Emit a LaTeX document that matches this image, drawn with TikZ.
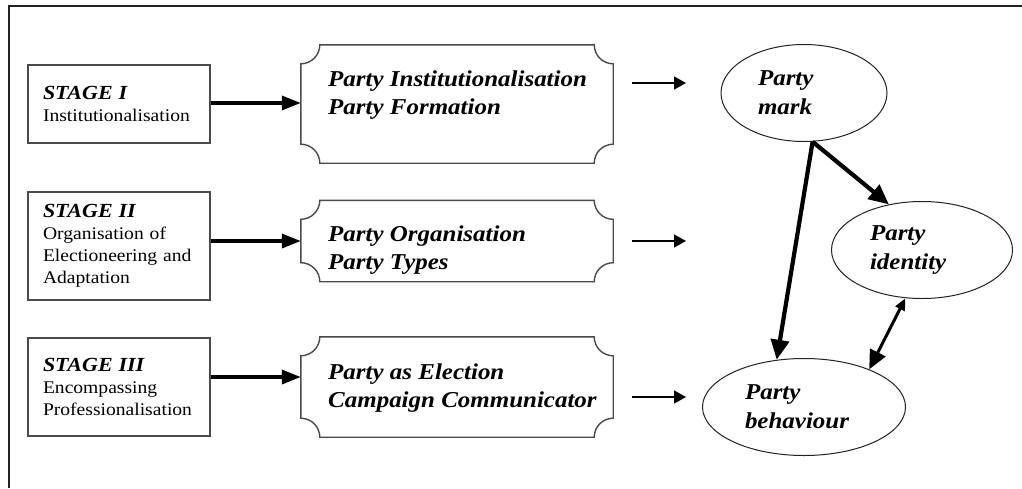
\documentclass[tikz,border=0pt]{standalone}
\usepackage{fontspec}
\setmainfont{Liberation Serif}[FakeStretch=1.1]
\usepackage{tikz}
\usetikzlibrary{arrows.meta}
\usetikzlibrary{calc}
\usepackage{xcolor}
\usetikzlibrary{arrows.meta,shapes.geometric}

\definecolor{framegray}{HTML}{222222}
\definecolor{boxgray}{HTML}{4A4A4A}

\begin{document}
\begin{tikzpicture}[x=1pt,y=-1pt,
		stagebox/.style={draw=boxgray,line width=1.5pt,rectangle,minimum width=182pt,
			text width=152pt,inner xsep=15pt,inner ysep=0pt,align=left,
			font=\fontsize{17.8}{22}\selectfont},
		scrollbox/.style={rectangle,minimum width=312pt,inner sep=0pt},
		scrollline/.style={draw=boxgray,line width=1.4pt},
		scrolltext/.style={anchor=west,inner sep=0pt,align=left,
			font=\fontsize{22.7}{28}\selectfont\bfseries\itshape},
		oval/.style={ellipse,draw=framegray,line width=1pt,inner sep=0pt,align=left,
			font=\fontsize{22.7}{29}\selectfont\bfseries\itshape},
		fatarrow/.style={line width=3.5pt,-{Triangle[length=19pt,width=14pt]}},
		thinarrow/.style={line width=1.5pt,-{Triangle[length=12pt,width=13pt]}},
		linkarrow/.style={line width=4.2pt,-{Triangle[length=20pt,width=18pt]}}]
		\useasboundingbox (0,0) rectangle (1022,488);
		
		% Outer frame
		\draw[framegray,line width=2pt] (9,488) -- (9,6) -- (1022,6);
		
		% Stages
		\node[stagebox,minimum height=78pt] (stage1) at (119,104)
		{{\fontsize{20}{22}\selectfont\bfseries\itshape STAGE I}\\Institutionalisation};
		\node[stagebox,minimum height=108pt] (stage2) at (119,246)
		{{\fontsize{20}{22}\selectfont\bfseries\itshape STAGE II}\\Organisation of\\Electioneering and\\Adaptation};
		\node[stagebox,minimum height=98pt] (stage3) at (119,387)
		{{\fontsize{20}{22}\selectfont\bfseries\itshape STAGE III}\\Encompassing\\Professionalisation};
		
		% Party forms (scroll outlines)
		\node[scrollbox,minimum height=118pt] (inst) at (457,104) {};
		\node[scrollbox,minimum height=81pt] (org) at (457,241) {};
		\node[scrollbox,minimum height=100pt] (camp) at (457,387) {};
		\foreach \sc in {inst,org,camp} {
			\draw[scrollline] ([yshift=-19pt]\sc.north west) arc[start angle=-90,end angle=0,radius=19pt]
			-- ([xshift=-19pt]\sc.north east) arc[start angle=180,end angle=270,radius=19pt]
			-- ([yshift=19pt]\sc.south east) arc[start angle=90,end angle=180,radius=19pt]
			-- ([xshift=19pt]\sc.south west) arc[start angle=0,end angle=90,radius=19pt]
			-- cycle;
		}
		\node[scrolltext] (inst-txt) at (328,95) {Party Institutionalisation\\Party Formation};
		\node[scrolltext] (org-txt) at (328,250) {Party Organisation\\Party Types};
		\node[scrolltext] (camp-txt) at (328,388) {Party as Election\\Campaign Communicator};
		
		% Stage to party form
		\draw[fatarrow] (stage1.east |- 0,103) -- (inst.west |- 0,103);
		\draw[fatarrow] (stage2.east |- 0,241) -- (org.west |- 0,241);
		\draw[fatarrow] (stage3.east |- 0,377) -- (camp.west |- 0,377);
		
		% Outcomes
		\node[oval,minimum width=166pt,minimum height=97pt,text width=92pt] (mark) at (804,93) {Party\\mark};
		\node[oval,minimum width=181pt,minimum height=97pt,text width=104pt] (identity) at (922,250) {Party\\identity};
		\node[oval,minimum width=203pt,minimum height=97pt,text width=118pt] (behaviour) at (804,407) {Party\\behaviour};
		
		% Short arrows towards the outcomes
		\foreach \yy/\name in {83/a, 241/b, 397/c} {
			\coordinate (\name-start) at (632,\yy);
			\coordinate (\name-end) at (686,\yy);
			\draw[thinarrow] (\name-start) -- (\name-end);
		}
		
		% Links between outcomes
		\draw[linkarrow] (mark.-80) -- (identity.126);
		\draw[linkarrow] (mark.-80) -- (behaviour.120);
		\draw[line width=3pt,{Triangle[length=12pt,width=10pt]}-{Triangle[length=19pt,width=17pt]}]
		(identity.251) -- (behaviour.30);
	\end{tikzpicture}
\end{document}
